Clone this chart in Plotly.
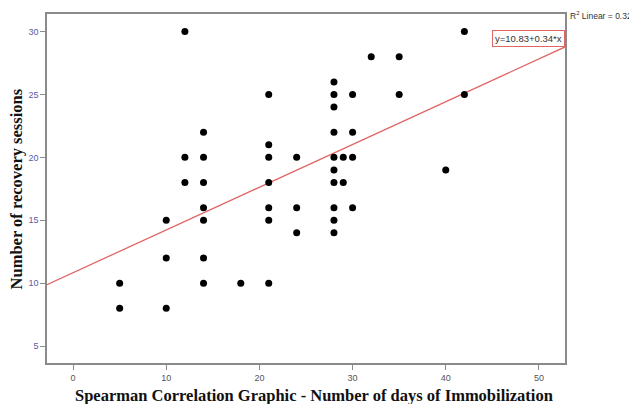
import plotly.graph_objects as go

# Data (days of immobilization vs recovery sessions)
days = [5, 5,
        10, 10, 10,
        12, 12, 12,
        14, 14, 14, 14, 14, 14, 14,
        18,
        21, 21, 21, 21, 21, 21, 21,
        24, 24, 24,
        28, 28, 28, 28, 28, 28, 28, 28, 28, 28,
        29, 29,
        30, 30, 30, 30,
        32,
        35, 35,
        40,
        42, 42]
sessions = [10, 8,
            15, 12, 8,
            30, 20, 18,
            22, 20, 18, 16, 15, 12, 10,
            10,
            25, 21, 20, 18, 16, 15, 10,
            20, 16, 14,
            26, 25, 24, 22, 20, 19, 18, 16, 15, 14,
            20, 18,
            25, 22, 20, 16,
            28,
            28, 25,
            19,
            30, 25]

intercept = 10.83
slope = 0.34
r2 = 0.328
x_range = [-2.8, 52.8]
y_range = [3.65, 31.4]
x_ticks = [0, 10, 20, 30, 40, 50]
y_ticks = [5, 10, 15, 20, 25, 30]

fit_x = x_range
fit_y = [intercept + slope * v for v in fit_x]

fig = go.Figure()
fig.add_trace(go.Scatter(
    x=fit_x, y=fit_y, mode="lines",
    line=dict(color="#e06666", width=1.3),
    hoverinfo="skip", showlegend=False,
))
fig.add_trace(go.Scatter(
    x=days, y=sessions, mode="markers",
    marker=dict(color="black", size=7),
    showlegend=False,
))

axis_common = dict(
    showgrid=False, zeroline=False, showline=True, mirror=True,
    linecolor="#8a8a8a", linewidth=1.5,
    ticks="outside", ticklen=5, tickwidth=1, tickcolor="#8a8a8a",
    automargin=False,
)

fig.update_xaxes(
    range=x_range, tickvals=x_ticks, **axis_common,
    tickfont=dict(family="Liberation Sans, Arial", size=9, color="#555555"),
)
fig.update_yaxes(
    range=y_range, tickvals=y_ticks, **axis_common,
    tickfont=dict(family="Liberation Sans, Arial", size=9, color="#5a5aa8"),
)

title_font = dict(family="Liberation Serif, Times New Roman", size=16.5, color="#111111")
fig.add_annotation(
    text="<b>Spearman Correlation Graphic - Number of days of Immobilization</b>",
    xref="paper", yref="paper", x=0.515, y=-0.093, xanchor="center", yanchor="middle",
    showarrow=False, font=title_font,
)
fig.add_annotation(
    text="<b>Number of recovery sessions</b>",
    xref="paper", yref="paper", x=-0.058, y=0.5, xanchor="center", yanchor="middle",
    textangle=-90, showarrow=False, font=title_font,
)

fig.add_annotation(
    text=f"y={intercept}+{slope}*x",
    xref="paper", yref="paper", x=1.0, y=0.953, xanchor="right", yanchor="top",
    showarrow=False, bgcolor="white", bordercolor="#e06666", borderwidth=1, borderpad=2,
    font=dict(family="Liberation Sans, Arial", size=9.5, color="#333333"),
)
fig.add_annotation(
    text=f"R<sup>2</sup> Linear = {r2}",
    xref="paper", yref="paper", x=1.006, y=1.017, xanchor="left", yanchor="top",
    showarrow=False,
    font=dict(family="Liberation Sans, Arial", size=8.5, color="#333333"),
)

# The page body adds an 8px offset, so the figure is sized to fill the rest of the window
fig.update_layout(
    width=629, height=396,
    margin=dict(l=39, r=72, t=6, b=41),
    plot_bgcolor="white", paper_bgcolor="white",
)

fig.write_html("out.html")
